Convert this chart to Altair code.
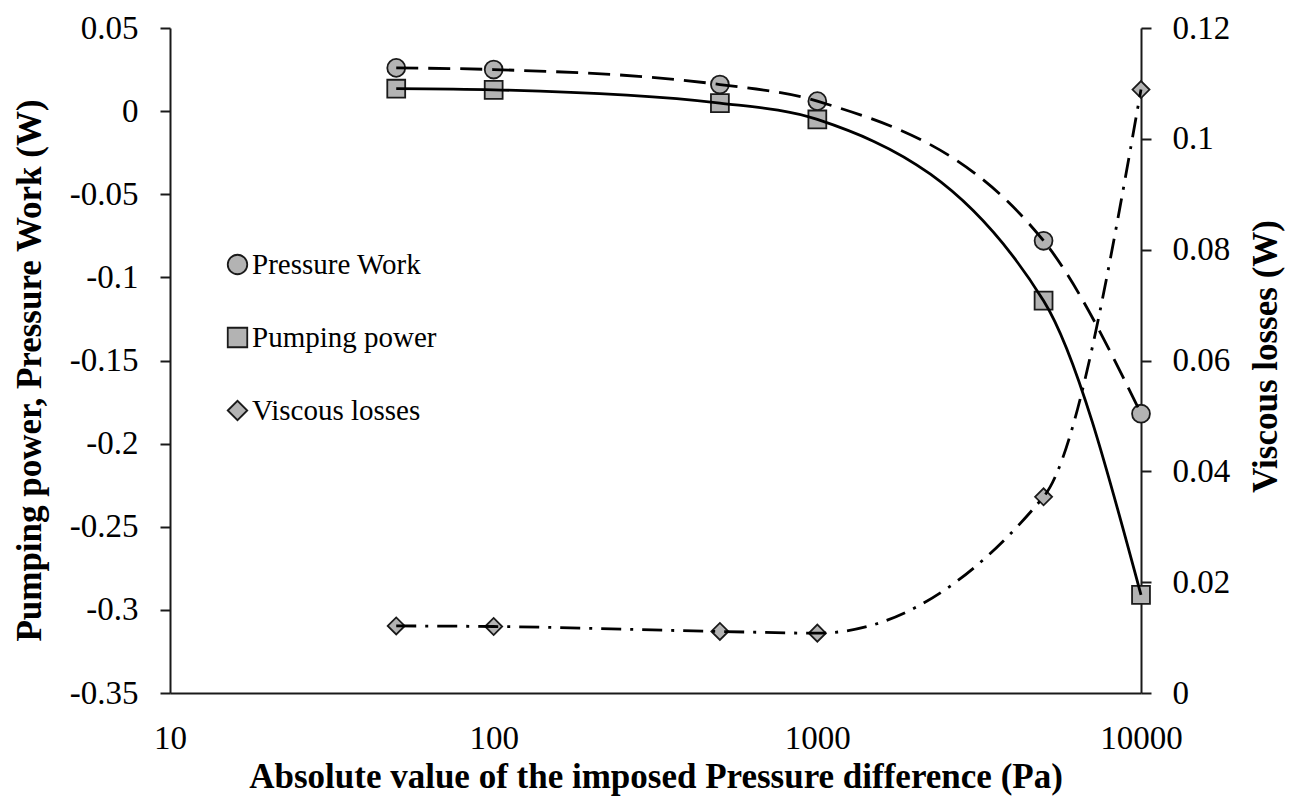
import altair as alt
import pandas as pd

# ---------------- data ----------------
pressure_diff = [50, 100, 500, 1000, 5000, 10000]
pressure_work = [0.026, 0.025, 0.016, 0.006, -0.078, -0.182]
pumping_power = [0.0135, 0.0128, 0.0048, -0.005, -0.114, -0.291]
viscous_losses = [0.0121, 0.0120, 0.0111, 0.0108, 0.0354, 0.1089]
series_names = ["Pressure Work", "Pumping power", "Viscous losses"]
x_ticks = [10, 100, 1000, 10000]
left_ticks = [-0.35, -0.3, -0.25, -0.2, -0.15, -0.1, -0.05, 0, 0.05]
right_ticks = [0, 0.02, 0.04, 0.06, 0.08, 0.1, 0.12]

left_df = pd.DataFrame({
    "x": pressure_diff + pressure_diff,
    "y": pressure_work + pumping_power,
    "series": [series_names[0]] * len(pressure_diff) + [series_names[1]] * len(pressure_diff),
})
right_df = pd.DataFrame({
    "x": pressure_diff,
    "y": viscous_losses,
    "series": [series_names[2]] * len(pressure_diff),
})

FONT = "Liberation Serif"
INK = "#1a1a1a"
FILL = "#b3b3b3"
LABEL_EXPR = "datum.value == 0 ? '0' : toString(round(datum.value * 100) / 100)"
CURVE = "monotone"
TICK_FS = 33
TITLE_FS = 35

x_enc = alt.X(
    "x:Q",
    scale=alt.Scale(type="log", domain=[10, 10000], nice=False),
    axis=alt.Axis(
        values=x_ticks, format="d", ticks=False, tickSize=0, grid=False,
        labelFlush=False,
        labelFont=FONT, labelFontSize=TICK_FS, labelColor="black", labelPadding=29,
        domainColor=INK, domainWidth=2,
        title="Absolute value of the imposed Pressure difference (Pa)",
        titleFont=FONT, titleFontSize=TITLE_FS, titleFontWeight="bold", titleColor="black",
        titleY=83, titleBaseline="middle",
    ),
)

y_left = alt.Y(
    "y:Q",
    scale=alt.Scale(domain=[-0.35, 0.05], nice=False, zero=False),
    axis=alt.Axis(
        orient="left", values=left_ticks, labelExpr=LABEL_EXPR, grid=False,
        tickSize=10, tickWidth=2, tickColor=INK,
        labelFont=FONT, labelFontSize=TICK_FS, labelColor="black", labelPadding=22,
        domainColor=INK, domainWidth=2,
        title="Pumping power, Pressure Work (W)",
        titleFont=FONT, titleFontSize=TITLE_FS, titleFontWeight="bold", titleColor="black",
        titleAngle=270, titleX=-141, titleY=342, titleAlign="center", titleBaseline="middle",
    ),
)

y_right = alt.Y(
    "y:Q",
    scale=alt.Scale(domain=[0, 0.12], nice=False, zero=False),
    axis=alt.Axis(
        orient="right", values=right_ticks, labelExpr=LABEL_EXPR, grid=False,
        tickSize=10, tickWidth=2, tickColor=INK,
        labelFont=FONT, labelFontSize=TICK_FS, labelColor="black", labelPadding=21,
        domainColor=INK, domainWidth=2,
        title="Viscous losses (W)",
        titleFont=FONT, titleFontSize=TITLE_FS, titleFontWeight="bold", titleColor="black",
        titleAngle=270, titleX=124, titleY=328, titleAlign="center", titleBaseline="middle",
    ),
)

legend_def = alt.Legend(
    title=None, orient="none", legendX=53, legendY=222, padding=0,
    symbolSize=380, symbolStrokeWidth=1.8, symbolOpacity=1,
    labelFont=FONT, labelFontSize=29, labelColor="black", labelOffset=0,
    labelLimit=400, rowPadding=43,
)

shape_enc = alt.Shape(
    "series:N",
    scale=alt.Scale(domain=series_names, range=["circle", "square", "diamond"]),
    legend=legend_def,
)
fill_enc = alt.Fill(
    "series:N",
    scale=alt.Scale(domain=series_names, range=[FILL, FILL, FILL]),
    legend=legend_def,
)
stroke_enc = alt.Stroke(
    "series:N",
    scale=alt.Scale(domain=series_names, range=[INK, INK, INK]),
    legend=legend_def,
)

pts_left = alt.Chart(left_df).mark_point(
    filled=True, strokeWidth=1.8, size=320, opacity=1, fillOpacity=1
).encode(x=x_enc, y=y_left, shape=shape_enc, fill=fill_enc, stroke=stroke_enc)

line_pw = alt.Chart(left_df).transform_filter(
    alt.datum.series == series_names[0]
).mark_line(color="black", strokeWidth=2.8, strokeDash=[22, 10], interpolate=CURVE).encode(
    x=x_enc, y=y_left
)

line_pp = alt.Chart(left_df).transform_filter(
    alt.datum.series == series_names[1]
).mark_line(color="black", strokeWidth=2.8, interpolate=CURVE).encode(
    x=x_enc, y=y_left
)

pts_right = alt.Chart(right_df).mark_point(
    filled=True, strokeWidth=1.8, size=290, opacity=1, fillOpacity=1
).encode(x=x_enc, y=y_right, shape=shape_enc, fill=fill_enc, stroke=stroke_enc)

line_vl = alt.Chart(right_df).mark_line(
    color="black", strokeWidth=2.8, strokeDash=[20, 9, 3, 9], interpolate=CURVE
).encode(x=x_enc, y=y_right)

left = alt.layer(pts_left, line_pw, line_pp)
right = alt.layer(pts_right, line_vl)

chart = alt.layer(left, right).resolve_scale(y="independent").properties(
    width=971,
    height=665,
    padding={"left": 162, "top": 20, "right": 150, "bottom": 103},
    autosize=alt.AutoSizeParams(type="none"),
    background="white",
).configure_view(strokeWidth=0)

chart.save("out.html", embed_options={"renderer": "svg", "actions": False})
